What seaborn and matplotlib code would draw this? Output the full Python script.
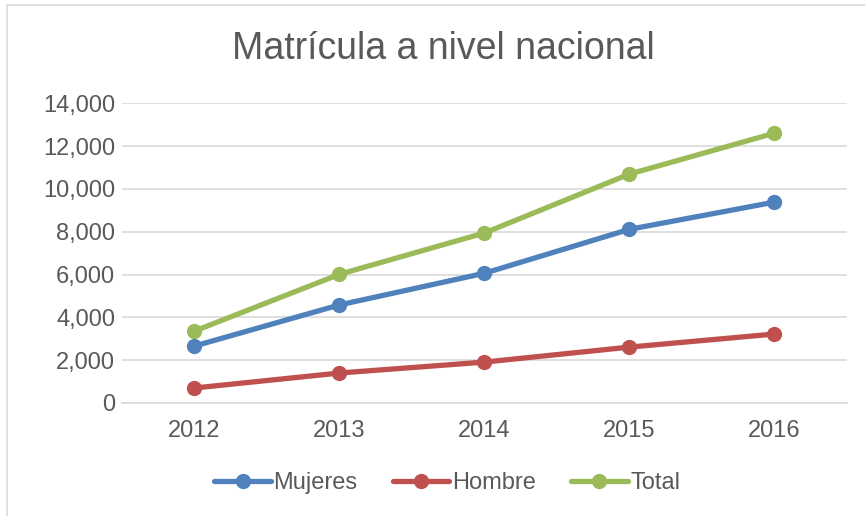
import pandas as pd
from matplotlib import pyplot as plt
import seaborn as sns

years = [2012, 2013, 2014, 2015, 2016]
mujeres = [2660, 4580, 6060, 8110, 9380]
hombre = [700, 1400, 1910, 2610, 3220]
total = [3360, 6010, 7940, 10690, 12600]
series_names = ['Mujeres', 'Hombre', 'Total']
colors = ['#4F81BD', '#C0504D', '#9BBB59']

df = pd.DataFrame({'year': years * 3,
                   'value': mujeres + hombre + total,
                   'serie': [s for s in series_names for _ in years]})

sns.set_style('white')
plt.rcParams['font.family'] = ['Liberation Sans', 'DejaVu Sans']
text_color = '#595959'

fig = plt.figure(figsize=(8.65, 5.16), dpi=100)
ax = fig.add_axes([0.141, 0.219, 0.838, 0.581])

sns.lineplot(data=df, x='year', y='value', hue='serie', palette=colors,
             marker='o', markersize=11, markeredgewidth=0, linewidth=3.8,
             ax=ax)

ax.set_xlim(2011.5, 2016.5)
ax.set_ylim(0, 14000)
ax.set_xticks(years)
ax.set_xticklabels([str(y) for y in years])
ax.set_yticks(range(0, 14001, 2000))
ax.set_yticklabels([f'{v:,}' for v in range(0, 14001, 2000)])
ax.tick_params(axis='y', length=0, labelsize=17, colors=text_color, pad=5)
ax.tick_params(axis='x', length=0, labelsize=17, colors=text_color, pad=12)
ax.grid(axis='y', color='#D9D9D9', linewidth=1.2)
ax.set_axisbelow(True)
for s in ['top', 'right', 'left']:
    ax.spines[s].set_visible(False)
ax.spines['bottom'].set_color('#D9D9D9')
ax.spines['bottom'].set_linewidth(1.2)
ax.set_xlabel('')
ax.set_ylabel('')

fig.text(0.512, 0.905, 'Matrícula a nivel nacional', ha='center', va='center',
         fontsize=27, color=text_color)

handles, labels = ax.get_legend_handles_labels()
ax.legend(handles, labels, loc='center', ncol=3, frameon=False, fontsize=17,
          handlelength=2.4, columnspacing=1.5, handletextpad=0.1,
          labelcolor=text_color)
leg = ax.get_legend()
leg.set_bbox_to_anchor((0.517, 0.064), transform=fig.transFigure)

fig.patches.append(plt.Rectangle((7 / 865, -0.01), 1, 1 - 5 / 516 + 0.01,
                                 transform=fig.transFigure, fill=False,
                                 edgecolor='#D9D9D9', linewidth=1.2))

fig.savefig('out.png', dpi=100)
